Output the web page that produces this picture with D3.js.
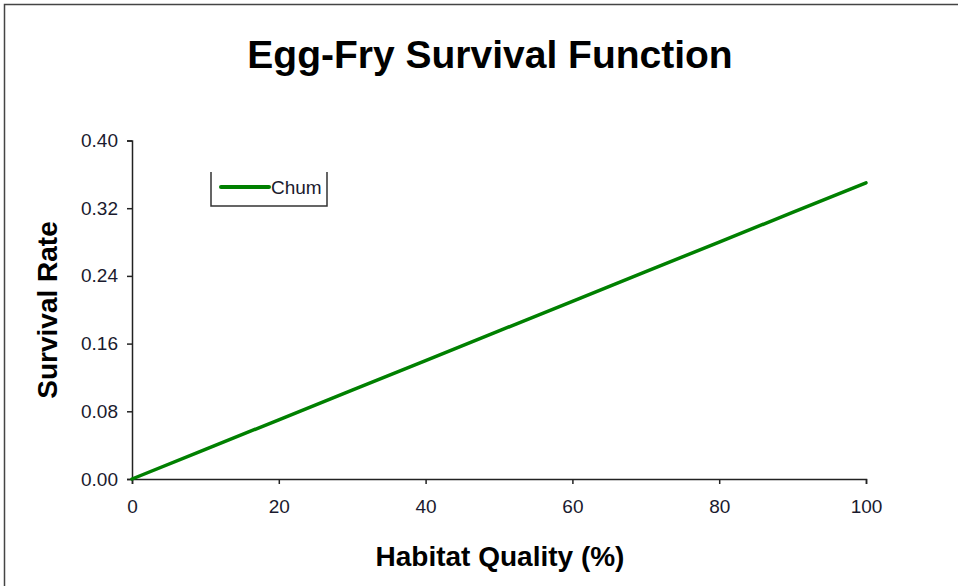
<!DOCTYPE html>
<html>
<head>
<meta charset="utf-8">
<script src="https://cdn.jsdelivr.net/npm/d3@7"></script>
<style>
  html, body { margin: 0; padding: 0; background: #fff; }
  svg { display: block; }
</style>
</head>
<body>
<svg id="chart" width="958" height="586"></svg>
<script>
// ---- data ----
const habitatQuality = [0, 10, 20, 30, 40, 50, 60, 70, 80, 90, 100];
const chumSurvival = [0, 0.035, 0.07, 0.105, 0.14, 0.175, 0.21, 0.245, 0.28, 0.315, 0.35];
const yTicks = [0, 0.08, 0.16, 0.24, 0.32, 0.40];
const xTicks = [0, 20, 40, 60, 80, 100];
const seriesName = "Chum";
const chartTitle = "Egg-Fry Survival Function";
const xTitle = "Habitat Quality (%)";
const yTitle = "Survival Rate";

const svg = d3.select("#chart");
const font = "'Liberation Sans', Arial, sans-serif";

// outer border
svg.append("rect").attr("x", 4.5).attr("y", 4.5).attr("width", 1000).attr("height", 1000)
  .attr("fill", "none").attr("stroke", "#444").attr("stroke-width", 1.5);

const x = d3.scaleLinear().domain([0, 100]).range([132, 866]);
const y = d3.scaleLinear().domain([0, 0.40]).range([479, 140.5]);

// axes
const yAxis = d3.axisLeft(y).tickValues(yTicks).tickFormat(d3.format(".2f")).tickSize(5).tickPadding(9);
const xAxis = d3.axisBottom(x).tickValues(xTicks).tickFormat(d3.format("d")).tickSize(5).tickPadding(16);

const gy = svg.append("g").attr("transform", `translate(${x(0)},0)`).call(yAxis);
const gx = svg.append("g").attr("transform", `translate(0,${y(0)})`).call(xAxis);
[gx, gy].forEach(g => {
  g.select(".domain").attr("stroke", "#222").attr("stroke-width", 1.5);
  g.selectAll(".tick line").attr("stroke", "#222").attr("stroke-width", 1.5);
  g.selectAll(".tick text").attr("font-family", font).attr("font-size", 19).attr("fill", "#1a1a2e");
});

// line
const line = d3.line().x((d, i) => x(habitatQuality[i])).y(d => y(d));
svg.append("path").datum(chumSurvival)
  .attr("d", line)
  .attr("fill", "none").attr("stroke", "#008000").attr("stroke-width", 3.5)
  .attr("stroke-linecap", "round").attr("stroke-linejoin", "round");

// title
svg.append("text").attr("x", 490).attr("y", 68).attr("text-anchor", "middle")
  .attr("font-family", font).attr("font-weight", "bold").attr("font-size", 39)
  .attr("fill", "#000").text(chartTitle);

// axis titles
svg.append("text").attr("x", 500).attr("y", 566).attr("text-anchor", "middle")
  .attr("font-family", font).attr("font-weight", "bold").attr("font-size", 28)
  .attr("fill", "#000").text(xTitle);
svg.append("text").attr("transform", "translate(57,310) rotate(-90)").attr("text-anchor", "middle")
  .attr("font-family", font).attr("font-weight", "bold").attr("font-size", 28)
  .attr("fill", "#000").text(yTitle);

// legend
const lg = svg.append("g");
lg.append("path").attr("d", "M211,172 V206 H327 V172")
  .attr("fill", "none").attr("stroke", "#333").attr("stroke-width", 1.5);
lg.append("line").attr("x1", 221).attr("x2", 269).attr("y1", 187).attr("y2", 187)
  .attr("stroke", "#008000").attr("stroke-width", 4).attr("stroke-linecap", "round");
lg.append("text").attr("x", 271).attr("y", 194)
  .attr("font-family", font).attr("font-size", 19).attr("fill", "#1a1a2e").text(seriesName);
</script>
</body>
</html>
